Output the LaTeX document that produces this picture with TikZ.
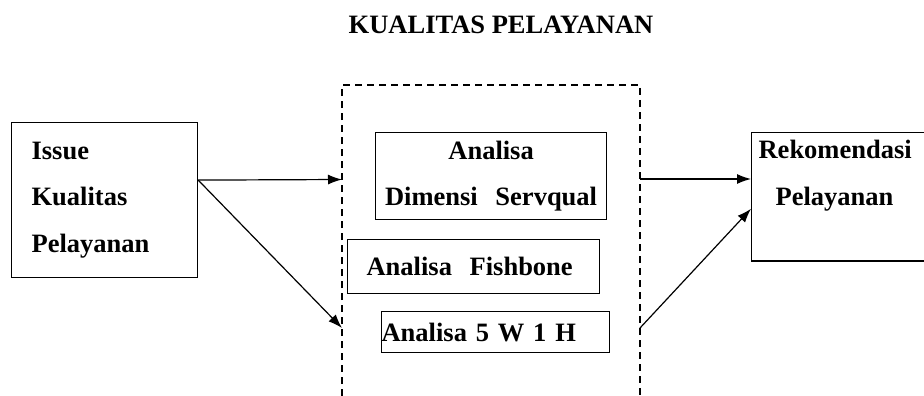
\documentclass[tikz,border=0pt]{standalone}
\usepackage{fontspec}
\setmainfont{Liberation Serif}
\usetikzlibrary{arrows.meta,positioning}
\tikzstyle{box}=[draw, line width=1.2pt, anchor=north west, inner ysep=0pt, align=left]
\tikzstyle{frame}=[line width=1.6pt, dash pattern=on 7pt off 5pt]
\tikzstyle{flow}=[->, line width=1.2pt]

\begin{document}
\begin{tikzpicture}[x=1pt,y=-1pt,>={Latex[length=14pt,width=10pt]},font=\bfseries\fontsize{26.5}{46.5}\selectfont]
		    \useasboundingbox (0,0) rectangle (924,396);
		    \node [anchor=base] (t) at (501,34) {KUALITAS PELAYANAN};
		    \node [box, minimum width=186pt, minimum height=155pt, inner xsep=20pt, text width=146pt] (issue) at (11,122) {Issue\\Kualitas\\Pelayanan};
		    \node [box, minimum width=231pt, minimum height=87pt, inner xsep=0pt, text width=231pt, align=center] (sq) at (375,132) {Analisa\\Dimensi~~Servqual};
		    \node [box, minimum width=252pt, minimum height=54pt, inner xsep=19pt, text width=214pt] (fb) at (347,239) {Analisa~~Fishbone};
		    \node [box, minimum width=228pt, minimum height=41pt, inner xsep=0pt, text width=228pt] (wh) at (381,311) {Analisa 5 W 1 H};
		    \node [box, inner xsep=7pt, inner ysep=8pt, text width=200pt, text depth=94pt] (rek) at (751,132) {Rekomendasi\\\hspace*{17pt}Pelayanan};
		    % dashed frame, open at the bottom
		    \coordinate (fl) at (342,396);
		    \coordinate (ftl) at (342,85);
		    \coordinate (ftr) at (640,85);
		    \coordinate (fr) at (640,396);
		    \draw [frame] (fl) -- (ftl) -- (ftr) -- (fr);
		    \coordinate (src) at ([yshift=20pt]issue.east);
		    \coordinate (in1) at (342,179.5);
		    \coordinate (in2) at (342,328);
		    \coordinate (out1) at (640,179);
		    \coordinate (out2) at (640,328);
		    \draw [flow] (src) -- (in1);
		    \draw [flow] (src) -- (in2);
		    \draw [flow] (out1) -- (rek.west |- out1);
		    \draw [flow] (out2) -- ([yshift=-12pt]rek.west);
		\end{tikzpicture}
\end{document}
